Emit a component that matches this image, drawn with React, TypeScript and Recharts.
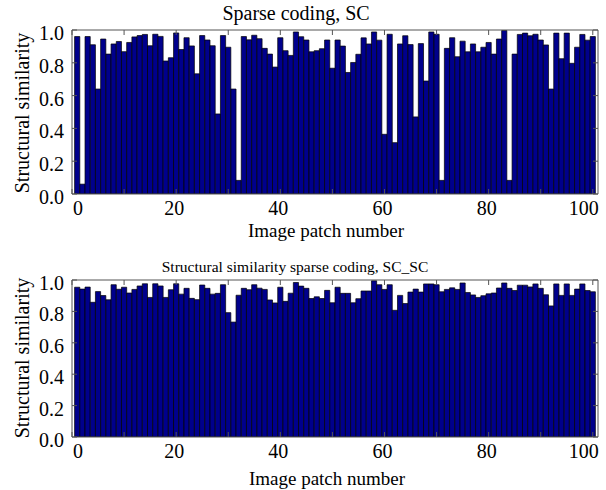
import React from 'react';
import { BarChart, Bar, XAxis, YAxis } from 'recharts';

const scValues: number[] = [
  0.96, 0.06, 0.96, 0.91, 0.64, 0.945, 0.853, 0.915, 0.93, 0.868,
  0.924, 0.958, 0.966, 0.973, 0.904, 0.974, 0.961, 0.811, 0.831, 0.982,
  0.881, 0.953, 0.903, 0.733, 0.966, 0.939, 0.904, 0.488, 0.966, 0.895,
  0.64, 0.083, 0.96, 0.94, 0.968, 0.947, 0.888, 0.853, 0.774, 0.953,
  0.874, 0.845, 0.988, 0.959, 0.939, 0.867, 0.874, 0.886, 0.939, 0.767,
  0.939, 0.902, 0.741, 0.802, 0.852, 0.952, 0.915, 0.988, 0.938, 0.364,
  0.974, 0.313, 0.915, 0.965, 0.911, 0.47, 0.917, 0.689, 0.988, 0.974,
  0.083, 0.888, 0.953, 0.837, 0.932, 0.867, 0.915, 0.867, 0.895, 0.924,
  0.853, 0.945, 0.997, 0.083, 0.853, 0.973, 0.981, 0.965, 0.974, 0.939,
  0.909, 0.64, 0.981, 0.825, 0.981, 0.797, 0.895, 0.973, 0.938, 0.96,
];

const scscValues: number[] = [
  0.954, 0.942, 0.955, 0.858, 0.926, 0.901, 0.874, 0.97, 0.941, 0.954,
  0.917, 0.94, 0.962, 0.976, 0.889, 0.976, 0.962, 0.889, 0.938, 0.976,
  0.91, 0.947, 0.883, 0.875, 0.968, 0.947, 0.91, 0.915, 0.97, 0.792,
  0.732, 0.903, 0.947, 0.938, 0.97, 0.948, 0.94, 0.873, 0.854, 0.954,
  0.864, 0.916, 0.984, 0.961, 0.947, 0.882, 0.893, 0.882, 0.934, 0.855,
  0.954, 0.915, 0.915, 0.855, 0.881, 0.93, 0.93, 0.995, 0.97, 0.94,
  0.97, 0.807, 0.902, 0.85, 0.923, 0.942, 0.923, 0.975, 0.975, 0.97,
  0.925, 0.94, 0.95, 0.94, 0.981, 0.92, 0.905, 0.889, 0.9, 0.912,
  0.917, 0.949, 0.981, 0.947, 0.933, 0.967, 0.967, 0.956, 0.975, 0.947,
  0.906, 0.835, 0.975, 0.902, 0.975, 0.902, 0.942, 0.975, 0.933, 0.925,
];

const xTicks: number[] = [0, 10, 20, 30, 40, 50, 60, 70, 80, 90, 100];
const xLabelEvery = 20;
const yTicks: number[] = [0, 0.2, 0.4, 0.6, 0.8, 1.0];

const titles = ['Sparse coding, SC', 'Structural similarity sparse coding, SC_SC'];
const xAxisTitle = 'Image patch number';
const yAxisTitle = 'Structural similarity';

const FONT = '"Liberation Serif", "Times New Roman", serif';
const FRAME = '#555';
const TICK_LEN = 5;
const TICK_FONT = 20;

const toRows = (vals: number[]) => vals.map((v, i) => ({ patch: i + 1, ssim: v }));

const BottomTick = (props: any) => {
  const { x, y, payload } = props;
  const v = payload.value;
  let anchor: 'start' | 'middle' | 'end' = 'middle';
  let tx = x - 2;
  if (v === 0) {
    anchor = 'start';
    tx = x + 1;
  } else if (v === 100) {
    anchor = 'end';
    tx = x + 6;
  }
  return (
    <g>
      <line x1={x} y1={y} x2={x} y2={y - TICK_LEN} stroke={FRAME} strokeWidth={1} />
      {v % xLabelEvery === 0 ? (
        <text x={tx} y={y + 21} textAnchor={anchor} fontFamily={FONT} fontSize={TICK_FONT} fill="#000">
          {v}
        </text>
      ) : null}
    </g>
  );
};

const TopTick = (props: any) => {
  const { x, y } = props;
  return <line x1={x} y1={y} x2={x} y2={y + TICK_LEN} stroke={FRAME} strokeWidth={1} />;
};

const LeftTick = (props: any) => {
  const { x, y, payload } = props;
  return (
    <g>
      <line x1={x} y1={y} x2={x + TICK_LEN} y2={y} stroke={FRAME} strokeWidth={1} />
      <text x={x - 8} y={y + 10} textAnchor="end" fontFamily={FONT} fontSize={TICK_FONT} fill="#000">
        {Number(payload.value).toFixed(1)}
      </text>
    </g>
  );
};

const RightTick = (props: any) => {
  const { x, y } = props;
  return <line x1={x} y1={y} x2={x - TICK_LEN} y2={y} stroke={FRAME} strokeWidth={1} />;
};

type PanelProps = {
  values: number[];
  top: number;
  marginTop: number;
  xAxisHeight: number;
};

const Panel = ({ values, top, marginTop, xAxisHeight }: PanelProps) => (
  <div style={{ position: 'absolute', left: 0, top, width: 606, height: 245 }}>
    <BarChart
      width={606}
      height={245}
      data={toRows(values)}
      margin={{ top: marginTop, right: 0, bottom: 0, left: 0 }}
      barCategoryGap={0}
      barGap={0}
    >
      <XAxis
        dataKey="patch"
        type="number"
        domain={[0, 101]}
        ticks={xTicks}
        interval={0}
        height={xAxisHeight}
        tickSize={0}
        tickMargin={0}
        tickLine={false}
        axisLine={{ stroke: FRAME }}
        tick={BottomTick}
        allowDataOverflow
      />
      <XAxis
        xAxisId="top"
        orientation="top"
        dataKey="patch"
        type="number"
        domain={[0, 101]}
        ticks={xTicks}
        interval={0}
        height={10}
        tickSize={0}
        tickMargin={0}
        tickLine={false}
        axisLine={{ stroke: FRAME }}
        tick={TopTick}
        allowDataOverflow
      />
      <YAxis
        type="number"
        domain={[0, 1]}
        ticks={yTicks}
        interval={0}
        width={72}
        tickSize={0}
        tickMargin={0}
        tickLine={false}
        axisLine={{ stroke: FRAME }}
        tick={LeftTick}
        allowDataOverflow
      />
      <YAxis
        yAxisId="right"
        orientation="right"
        type="number"
        domain={[0, 1]}
        ticks={yTicks}
        interval={0}
        width={8}
        tickSize={0}
        tickMargin={0}
        tickLine={false}
        axisLine={{ stroke: FRAME }}
        tick={RightTick}
        allowDataOverflow
      />
      <Bar
        dataKey="ssim"
        fill="#00008c"
        stroke="#000"
        strokeWidth={0.7}
        barSize={5.2}
        isAnimationActive={false}
      />
    </BarChart>
  </div>
);

const textStyle: React.CSSProperties = {
  position: 'absolute',
  fontFamily: FONT,
  color: '#000',
  whiteSpace: 'nowrap',
  lineHeight: 1,
};

const Centered = ({ x, y, size, children, rotate }: any) => (
  <div
    style={{
      ...textStyle,
      left: x,
      top: y,
      fontSize: size,
      transform: `translate(-50%, -50%)${rotate ? ' rotate(-90deg)' : ''}`,
    }}
  >
    {children}
  </div>
);

export default function App() {
  return (
    <div style={{ position: 'absolute', left: 0, top: 0, width: 606, height: 490, background: '#fff', overflow: 'hidden' }}>
      <Panel values={scValues} top={0} marginTop={20} xAxisHeight={51} />
      <Panel values={scscValues} top={245} marginTop={25} xAxisHeight={53} />
      <Centered x={296} y={13} size={20}>{titles[0]}</Centered>
      <Centered x={295} y={267} size={15.5}>{titles[1]}</Centered>
      <Centered x={326} y={230} size={19}>{xAxisTitle}</Centered>
      <Centered x={327} y={478} size={19}>{xAxisTitle}</Centered>
      <Centered x={22} y={113} size={20} rotate>{yAxisTitle}</Centered>
      <Centered x={22} y={358} size={20} rotate>{yAxisTitle}</Centered>
    </div>
  );
}
